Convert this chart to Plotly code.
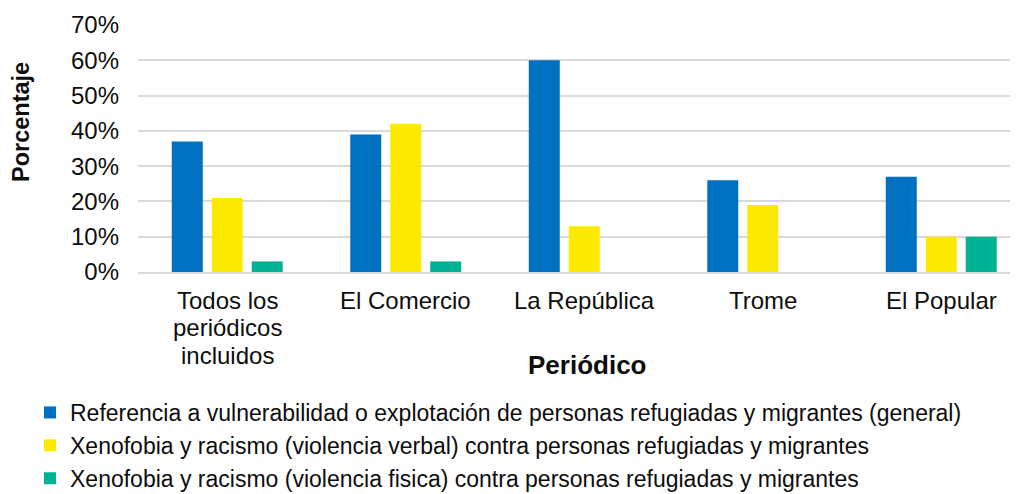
import plotly.graph_objects as go

categories = ["Todos los<br>periódicos<br>incluidos", "El Comercio", "La República", "Trome", "El Popular"]
series_names = [
    "Referencia a vulnerabilidad o explotación de personas refugiadas y migrantes (general)",
    "Xenofobia y racismo (violencia verbal) contra personas refugiadas y migrantes",
    "Xenofobia y racismo (violencia fisica) contra personas refugiadas y migrantes",
]
vulnerabilidad = [37, 39, 60, 26, 27]
violencia_verbal = [21, 42, 13, 19, 10]
violencia_fisica = [3, 3, 0, 0, 10]
colors = ["#0070C0", "#FCEA00", "#00B294"]
y_ticks = [0, 10, 20, 30, 40, 50, 60, 70]
y_tick_labels = [f"{v}%" for v in y_ticks]
x_title = "Periódico"
y_title = "Porcentaje"

FONT = "Liberation Sans, Arial, sans-serif"
TXT = "#0D0D0D"

# The page body adds an 8px offset; the figure is sized/positioned to compensate.
OFF = 8
W, H = 1018 - OFF, 494 - OFF
# plot area in screen pixels: x 138..1018, y 25..272
L, R, T = 138 - OFF, 0, 25 - OFF
B = H - (272 - OFF)
PW, PH = W - L - R, H - T - B

def px_to_paper_x(px):
    return (px - OFF - L) / PW

def px_to_paper_y(py):
    return (H - B - (py - OFF)) / PH

fig = go.Figure()
for name, vals, col in zip(series_names, [vulnerabilidad, violencia_verbal, violencia_fisica], colors):
    fig.add_trace(go.Bar(
        x=categories, y=vals, name=name,
        marker=dict(color=col, line=dict(width=0)),
    ))

annotations = []
# category labels (multi-line, tighter spacing than tick labels)
line_y = [300, 327.5, 355]
for cat in categories:
    for i, line in enumerate(cat.split("<br>")):
        annotations.append(dict(
            x=cat, xref="x", y=px_to_paper_y(line_y[i]), yref="paper",
            text=line, showarrow=False, xanchor="center", yanchor="middle",
            font=dict(family=FONT, size=24, color=TXT),
        ))
annotations.append(dict(
    x=px_to_paper_x(587), xref="paper", y=px_to_paper_y(365), yref="paper",
    text=f"<b>{x_title}</b>", showarrow=False, xanchor="center", yanchor="middle",
    font=dict(family=FONT, size=26, color=TXT),
))
annotations.append(dict(
    x=px_to_paper_x(21), xref="paper", y=px_to_paper_y(122), yref="paper",
    text=f"<b>{y_title}</b>", showarrow=False, xanchor="center", yanchor="middle",
    textangle=-90, font=dict(family=FONT, size=23.5, color=TXT),
))

fig.update_layout(
    width=W, height=H,
    margin=dict(l=L, r=R, t=T, b=B, autoexpand=False),
    paper_bgcolor="white", plot_bgcolor="white",
    barmode="group", bargap=0.328, bargroupgap=0.225,
    font=dict(family=FONT, color=TXT, size=24),
    showlegend=True,
    legend=dict(
        orientation="v", x=px_to_paper_x(30), xanchor="left",
        y=px_to_paper_y(391), yanchor="top",
        font=dict(family=FONT, size=23, color=TXT),
        itemwidth=30, bgcolor="rgba(0,0,0,0)",
    ),
    annotations=annotations,
)
fig.update_xaxes(
    range=[-0.5, 4.43],
    showline=True, linecolor="#D9D9D9", linewidth=1.5,
    ticks="", showticklabels=False, automargin=False,
)
fig.update_yaxes(
    range=[0, 70], tickvals=y_ticks, ticktext=y_tick_labels,
    showgrid=True, gridcolor="#D9D9D9", gridwidth=1.5,
    zeroline=False, showline=False, ticks="", automargin=False,
    tickfont=dict(size=24, family=FONT, color=TXT), ticklabelstandoff=18,
)

fig.write_html("out.html")
